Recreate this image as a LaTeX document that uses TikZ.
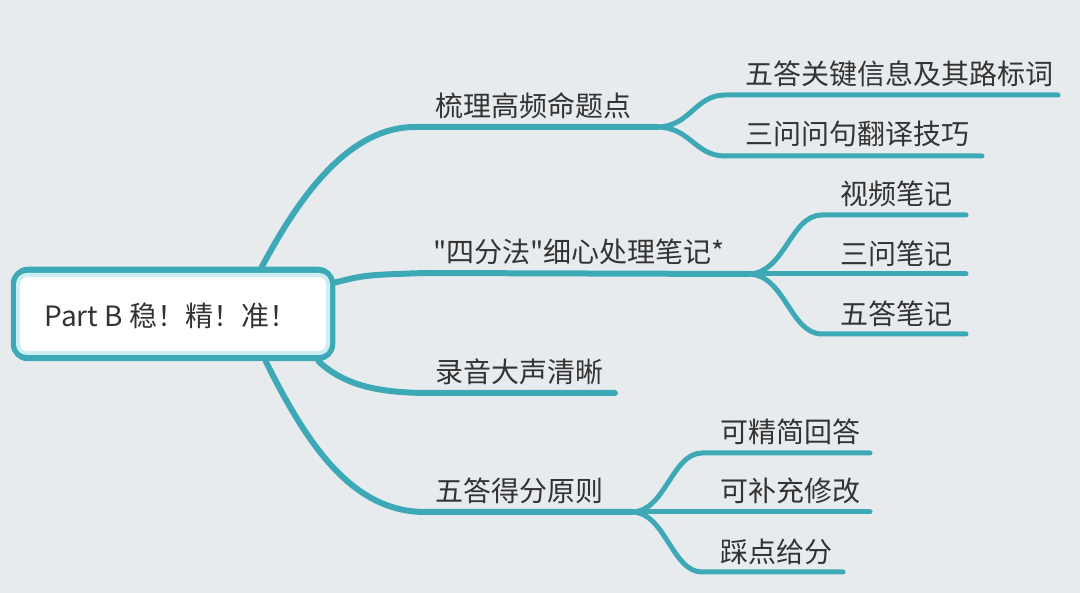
\documentclass[tikz,border=0pt]{standalone}
\usepackage{fontspec}
\setmainfont{Noto Sans CJK SC}
\newfontfamily\cjkplain{Noto Sans CJK SC}
\pgfdeclarelayer{back}
\pgfsetlayers{back,main}
\begin{document}
\begin{tikzpicture}[x=1pt,y=-1pt]
\definecolor{bg}{HTML}{E8EBEE}
\definecolor{tealc}{HTML}{3EA9B6}
\definecolor{glow}{HTML}{CDEFF3}
\definecolor{txt}{HTML}{333333}
\tikzset{
  br/.style={draw=tealc,line width=6pt,line cap=round},
  sub/.style={draw=tealc,line width=5pt,line cap=round},
  lbl/.style={anchor=base west,inner sep=0pt,text=txt,font=\cjkplain\fontsize{28}{32}\selectfont},
  rootbox/.style={draw=tealc,line width=6.5pt,fill=white,rounded corners=14pt,
    minimum width=318pt,minimum height=88pt,inner sep=0pt},
}
\begin{pgfonlayer}{back}
\fill[bg] (0,0) rectangle (1080,593);
\end{pgfonlayer}
\useasboundingbox (0,0) rectangle (1080,593);

% root
\node[rootbox] (root) at (173,314) {};
\draw[glow,line width=4pt,rounded corners=9pt] (18,275) rectangle (328,353);
\node[inner sep=0pt,text=txt,font=\cjkplain\fontsize{28}{32}\selectfont] (roottext) at (171,316) {Part B 稳！精！准！};

% labels
\node[lbl] (t1)  at (435,117) {梳理高频命题点};
\node[lbl] (t11) at (745,85)  {五答关键信息及其路标词};
\node[lbl] (t12) at (745,145) {三问问句翻译技巧};
\node[lbl] (t2)  at (433,263) {"四分法"细心处理笔记*};
\node[lbl] (t21) at (840,205) {视频笔记};
\node[lbl] (t22) at (840,265) {三问笔记};
\node[lbl] (t23) at (840,325) {五答笔记};
\node[lbl] (t3)  at (435,383) {录音大声清晰};
\node[lbl] (t4)  at (435,502) {五答得分原则};
\node[lbl] (t41) at (720,443) {可精简回答};
\node[lbl] (t42) at (720,502) {可补充修改};
\node[lbl] (t43) at (720,562) {踩点给分};

% fork points and line ends
\coordinate (f1) at (657,127);
\coordinate (e11) at (1058,95);
\coordinate (e12) at (982,156);
\coordinate (f2) at (748,274);
\coordinate (e21) at (966,215);
\coordinate (e22) at (966,274);
\coordinate (e23) at (966,334);
\coordinate (e3) at (615,393);
\coordinate (f4) at (632,512);
\coordinate (e41) at (870,453);
\coordinate (e42) at (870,512);
\coordinate (e43) at (843,572);

\begin{pgfonlayer}{back}
% main branches
\draw[br] (root.28) .. controls (295,205) and (345,127) .. (415,127) -- (f1);
\draw[br] (root.11) .. controls (365,275) .. (425,273) -- (f2);
\draw[br] (root.-18) .. controls (345,386) and (380,393) .. (430,393) -- (e3);
\draw[br] (root.-27) .. controls (305,440) and (350,512) .. (425,512) -- (f4);

% sub branches
\draw[sub] (f1) .. controls (690,127) and (695,95) .. (725,95) -- (e11);
\draw[sub] (f1) .. controls (690,127) and (695,156) .. (725,156) -- (e12);
\draw[sub] (f2) .. controls (785,274) and (790,215) .. (822,215) -- (e21);
\draw[sub] (f2) -- (e22);
\draw[sub] (f2) .. controls (785,274) and (790,334) .. (822,334) -- (e23);
\draw[sub] (f4) .. controls (665,512) and (672,453) .. (702,453) -- (e41);
\draw[sub] (f4) -- (e42);
\draw[sub] (f4) .. controls (665,512) and (672,572) .. (702,572) -- (e43);
\end{pgfonlayer}
\end{tikzpicture}
\end{document}
